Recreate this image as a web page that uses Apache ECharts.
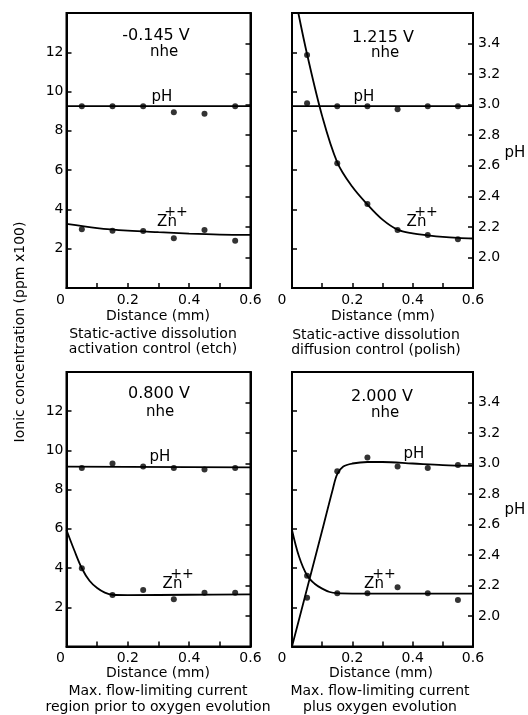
<!DOCTYPE html>
<html><head><meta charset="utf-8">
<script src="https://cdn.jsdelivr.net/npm/echarts@6/dist/echarts.min.js"></script>
<style>html,body{margin:0;padding:0;background:#fff}#c{width:528px;height:715px}</style>
</head><body><div id="c"></div>
<script>
// ---- data ----
const xPts = [0.05, 0.15, 0.25, 0.35, 0.45, 0.55];
const xTicks = [0, 0.2, 0.4, 0.6];
const concTicks = [2, 4, 6, 8, 10, 12];
const pHTicks = [2.0, 2.2, 2.4, 2.6, 2.8, 3.0, 3.2, 3.4];

// Panel A: -0.145 V
const A_pH_pts = [2.99, 2.99, 2.99, 2.95, 2.94, 2.99];
const A_pH_line = [[0, 2.99], [0.6, 2.99]];
const A_Zn_pts = [2.99, 2.92, 2.90, 2.53, 2.95, 2.41];
const A_Zn_line = [[0, 3.26], [0.1, 3.05], [0.2, 2.92], [0.3, 2.84], [0.4, 2.77], [0.5, 2.72], [0.6, 2.70]];

// Panel B: 1.215 V
const B_pH_pts = [3.01, 2.99, 2.99, 2.97, 2.99, 2.99];
const B_pH_line = [[0, 2.99], [0.6, 2.99]];
const B_Zn_pts = [11.86, 6.35, 4.28, 2.95, 2.70, 2.48];
const B_Zn_line = [[0.021, 14], [0.05, 11.9], [0.1, 8.75], [0.15, 6.4], [0.2, 5.15], [0.25, 4.25], [0.3, 3.48], [0.35, 2.97], [0.4, 2.78], [0.45, 2.68], [0.5, 2.6], [0.55, 2.55], [0.6, 2.52]];

// Panel C: 0.800 V
const C_pH_pts = [2.97, 3.00, 2.98, 2.97, 2.96, 2.97];
const C_pH_line = [[0, 2.98], [0.6, 2.975]];
const C_Zn_pts = [3.99, 2.63, 2.88, 2.41, 2.74, 2.74];
const C_Zn_line = [[0, 5.94], [0.025, 4.92], [0.05, 3.99], [0.075, 3.35], [0.1, 2.98], [0.125, 2.75], [0.15, 2.64], [0.2, 2.62], [0.4, 2.64], [0.6, 2.66]];

// Panel D: 2.000 V
const D_pH_pts = [2.12, 2.95, 3.04, 2.98, 2.97, 2.99];
const D_pH_line = [[0, 1.8], [0.05, 2.18], [0.1, 2.56], [0.135, 2.83], [0.15, 2.93], [0.17, 2.98], [0.2, 3.0], [0.25, 3.01], [0.3, 3.01], [0.4, 3.0], [0.5, 2.99], [0.6, 2.985]];
const D_Zn_pts = [3.61, 2.71, 2.71, 3.02, 2.71, 2.37];
const D_Zn_line = [[0, 5.94], [0.023, 4.6], [0.05, 3.62], [0.075, 3.2], [0.1, 2.95], [0.125, 2.78], [0.15, 2.72], [0.2, 2.7], [0.6, 2.7]];

const titles = ['-0.145 V', '1.215 V', '0.800 V', '2.000 V'];
const captions = [
  ['Static-active dissolution', 'activation control (etch)'],
  ['Static-active dissolution', 'diffusion control (polish)'],
  ['Max. flow-limiting current', 'region prior to oxygen evolution'],
  ['Max. flow-limiting current', 'plus oxygen evolution']
];
const yName = 'Ionic concentration (ppm x100)';

// ---- layout ----
const FONT = 'DejaVu Sans';
const grids = [
  {left: 66.5, top: 13, width: 184, height: 275},
  {left: 292, top: 13, width: 181, height: 275},
  {left: 66.5, top: 372, width: 184, height: 274.5},
  {left: 292, top: 372, width: 181, height: 274.5}
];
const panels = [
  [A_pH_line, A_pH_pts, A_Zn_line, A_Zn_pts],
  [B_pH_line, B_pH_pts, B_Zn_line, B_Zn_pts],
  [C_pH_line, C_pH_pts, C_Zn_line, C_Zn_pts],
  [D_pH_line, D_pH_pts, D_Zn_line, D_Zn_pts]
];

const tickStyle = {show: true, inside: true, length: 5, lineStyle: {color: '#000', width: 1.5}};
const xAxis = [], yAxis = [], series = [];
grids.forEach((g, i) => {
  const leftCol = (i % 2 === 0);
  xAxis.push({
    type: 'value', gridIndex: i, min: 0, max: 0.6, interval: 0.1,
    axisLine: {show: true, lineStyle: {color: '#000', width: 2}},
    axisTick: tickStyle, splitLine: {show: false},
    axisLabel: {
      color: '#000', fontFamily: FONT, fontSize: 14, margin: 5,
      formatter: v => {
        const k = Math.round(v * 10);
        const s = xTicks.find(t => Math.abs(t - v) < 1e-6);
        if (s === undefined) return '';
        return k === 0 ? '{z|0}' : s.toFixed(1);
      },
      rich: {z: {fontFamily: FONT, fontSize: 14, color: '#000', padding: [0, leftCol ? 12 : 20, 0, 0]}}
    }
  });
  yAxis.push({
    type: 'value', gridIndex: i, position: 'left', min: 0, max: 14, interval: 2,
    axisLine: {show: true, lineStyle: {color: '#000', width: 2}},
    axisTick: tickStyle, splitLine: {show: false},
    axisLabel: {
      show: leftCol, color: '#000', fontFamily: FONT, fontSize: 14, margin: 3,
      padding: [4, 0, 0, 0],
      formatter: v => concTicks.includes(Math.round(v)) ? String(Math.round(v)) : ''
    }
  });
  yAxis.push({
    type: 'value', gridIndex: i, position: 'right', min: 1.8, max: 3.6, interval: 0.2,
    axisLine: {show: true, lineStyle: {color: '#000', width: 2}},
    axisTick: tickStyle, splitLine: {show: false},
    axisLabel: {
      show: !leftCol, color: '#000', fontFamily: FONT, fontSize: 14, margin: 5,
      padding: [6, 0, 0, 0],
      formatter: v => pHTicks.some(t => Math.abs(t - v) < 1e-6) ? v.toFixed(1) : ''
    }
  });
  const [pHLine, pHPts, znLine, znPts] = panels[i];
  const lineCommon = {type: 'line', xAxisIndex: i, showSymbol: false, smooth: 0.35,
    lineStyle: {color: '#000', width: 1.8}, silent: true, clip: true, z: 2};
  const dotCommon = {type: 'scatter', xAxisIndex: i, symbol: 'circle', symbolSize: 6,
    itemStyle: {color: '#000'}, silent: true, z: 3};
  series.push(Object.assign({}, lineCommon, {name: 'pH', yAxisIndex: 2 * i + 1, data: pHLine}));
  series.push(Object.assign({}, dotCommon, {name: 'pH', yAxisIndex: 2 * i + 1, data: xPts.map((x, j) => [x, pHPts[j]])}));
  series.push(Object.assign({}, lineCommon, {name: 'Zn++', yAxisIndex: 2 * i, data: znLine}));
  series.push(Object.assign({}, dotCommon, {name: 'Zn++', yAxisIndex: 2 * i, data: xPts.map((x, j) => [x, znPts[j]])}));
});

// ---- annotations ----
function txt(text, x, y, size, extra) {
  return Object.assign({type: 'text', x: x, y: y, silent: true,
    style: {text: text, fill: '#000', font: size + 'px "' + FONT + '"', align: 'center', verticalAlign: 'middle'}}, extra || {});
}
const titlePos = [[156, 36, 164, 52], [383, 38, 385, 53], [159, 394, 160, 412], [382, 397, 385, 413]];
const pHPos = [[162, 97], [364, 97], [160, 457], [414, 454]];
const znPos = [[167, 222.5, 176, 212], [416.5, 222, 426, 212], [172.5, 584, 182, 574], [374, 584, 384, 574]];
const distPos = [[158, 316.5], [383, 316.5], [158, 673], [381, 673]];
const capPos = [[153, 334, 349], [376, 335, 350], [158, 691, 707], [380, 691, 707]];
const graphic = [];
for (let i = 0; i < 4; i++) {
  graphic.push(txt(titles[i], titlePos[i][0], titlePos[i][1], 16));
  graphic.push(txt('nhe', titlePos[i][2], titlePos[i][3], 15));
  graphic.push(txt('pH', pHPos[i][0], pHPos[i][1], 15));
  graphic.push(txt('Zn', znPos[i][0], znPos[i][1], 15));
  graphic.push(txt('++', znPos[i][2], znPos[i][3], 14));
  graphic.push(txt('Distance (mm)', distPos[i][0], distPos[i][1], 14));
  graphic.push(txt(captions[i][0], capPos[i][0], capPos[i][1], 14));
  graphic.push(txt(captions[i][1], capPos[i][0], capPos[i][2], 14));
}
graphic.push(txt('pH', 515, 153, 15));
graphic.push(txt('pH', 515, 510, 15));
graphic.push(txt(yName, 20, 332, 14, {rotation: Math.PI / 2}));

const chart = echarts.init(document.getElementById('c'), null, {renderer: 'canvas'});
chart.setOption({
  animation: false,
  backgroundColor: '#fff',
  grid: grids.map(g => Object.assign({show: true, borderColor: '#000', borderWidth: 2, backgroundColor: 'transparent'}, g)),
  xAxis: xAxis,
  yAxis: yAxis,
  series: series,
  graphic: graphic
});
</script></body></html>
